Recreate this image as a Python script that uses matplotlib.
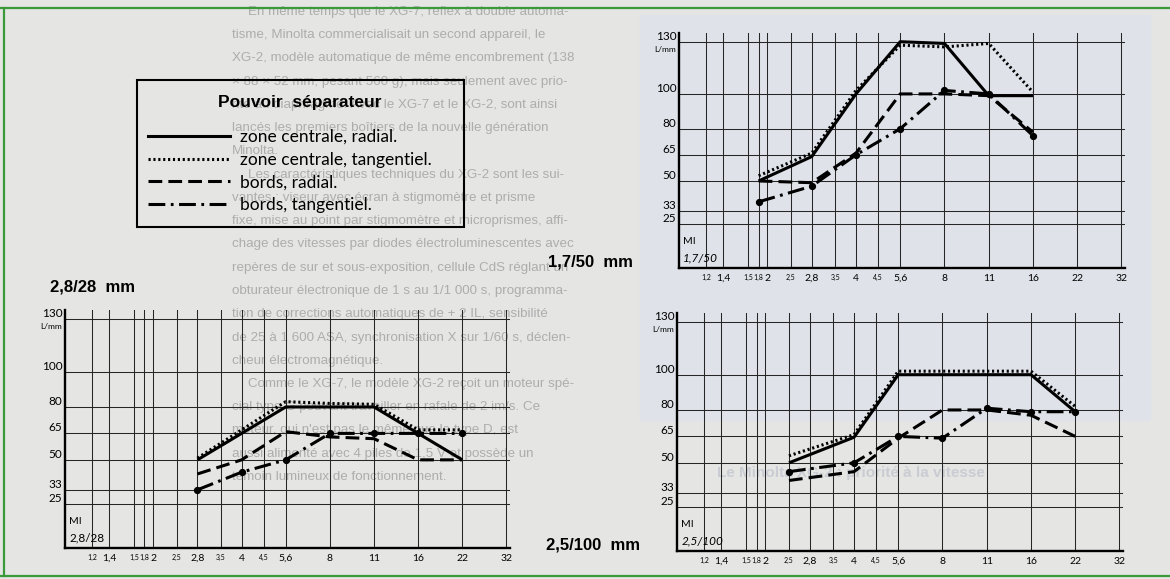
import numpy as np
import matplotlib
matplotlib.use("Agg")
import matplotlib.pyplot as plt
from matplotlib.lines import Line2D
from matplotlib.patches import Rectangle
from matplotlib.font_manager import FontProperties

# ---- data ----
f_ticks = [1.2, 1.4, 1.5, 1.8, 2, 2.5, 2.8, 3.5, 4, 4.5, 5.6, 8, 11, 16, 22, 32]
f_tick_labels = ["1,2", "1,4", "1,5", "1,8", "2", "2,5", "2,8", "3,5", "4",
                 "4,5", "5,6", "8", "11", "16", "22", "32"]
small_labels = ["1,2", "1,5", "1,8", "2,5", "3,5", "4,5"]
y_ticks = [25, 33, 50, 65, 80, 100, 130]

series_names = ["zone centrale, radial.", "zone centrale, tangentiel.",
                "bords, radial.", "bords, tangentiel."]

# 2,8/28 mm
w28_c_rad_x = [2.8, 5.6, 11, 16, 22]
w28_c_rad_y = [50, 80, 80, 65, 50]
w28_c_tan_x = [2.8, 5.6, 8, 11, 16, 22]
w28_c_tan_y = [51, 83, 82, 81.5, 67, 67]
w28_b_rad_x = [2.8, 4, 5.6, 8, 11, 16, 22]
w28_b_rad_y = [42, 50, 66, 63, 62, 50, 50]
w28_b_tan_x = [2.8, 4, 5.6, 8, 11, 16, 22]
w28_b_tan_y = [33, 43, 50, 65, 65, 65, 65]

# 1,7/50 mm
n50_c_rad_x = [1.8, 2.8, 4, 5.6, 8, 11, 16]
n50_c_rad_y = [50, 64, 100, 130, 129, 99, 99]
n50_c_tan_x = [1.8, 2.8, 4, 5.6, 8, 11, 16]
n50_c_tan_y = [53, 66, 102, 128, 127, 129, 101]
n50_b_rad_x = [1.8, 2.8, 4, 5.6, 8, 11, 16]
n50_b_rad_y = [50, 49, 66, 100, 100, 99, 78]
n50_b_tan_x = [1.8, 2.8, 4, 5.6, 8, 11, 16]
n50_b_tan_y = [38, 47, 65, 80, 102, 100, 76]

# 2,5/100 mm
t100_c_rad_x = [2.5, 4, 5.6, 16, 22]
t100_c_rad_y = [50, 64.5, 100, 100, 79]
t100_c_tan_x = [2.5, 4, 5.6, 16, 22]
t100_c_tan_y = [54, 66, 102, 102, 82]
t100_b_rad_x = [2.5, 4, 5.6, 8, 11, 16, 22]
t100_b_rad_y = [40, 45, 64, 80, 80, 77, 65]
t100_b_tan_x = [2.5, 4, 5.6, 8, 11, 16, 22]
t100_b_tan_y = [45, 50, 65, 64, 81, 79, 79]

# the f-number axis is drawn in stops, intermediate values placed by hand
F_TAB = [1, 1.2, 1.4, 1.5, 1.8, 2, 2.5, 2.8, 3.5, 4, 4.5, 5.6, 8, 11, 16, 22, 32, 45.25]
S_TAB = [0, 0.62, 1, 1.56, 1.8, 2, 2.53, 3, 3.53, 4, 4.5, 5, 6, 7, 8, 9, 10, 11]


def fwd(f):
    return np.interp(f, F_TAB, S_TAB)


def inv(s):
    return np.interp(s, S_TAB, F_TAB)


W, H = 1170, 579
fig = plt.figure(figsize=(W / 100, H / 100), dpi=100, facecolor="#e5e5e3")


def fx(x):
    return x / W


def fy(y):
    return 1 - y / H


# faint photo behind the right charts
fig.patches.append(Rectangle((fx(640), fy(420)), fx(1150) - fx(640), fy(15) - fy(420),
                             transform=fig.transFigure, color="#dfe3e9", zorder=-3))

# faint article text showing through
body = [
    "En même temps que le XG-7, reflex à double automa-",
    "tisme, Minolta commercialisait un second appareil, le",
    "XG-2, modèle automatique de même encombrement (138",
    "× 88 × 52 mm, pesant 560 g), mais seulement avec prio-",
    "rité au diaphragme. Avec le XG-7 et le XG-2, sont ainsi",
    "lancés les premiers boîtiers de la nouvelle génération",
    "Minolta.",
    "Les caractéristiques techniques du XG-2 sont les sui-",
    "vantes : viseur avec écran à stigmomètre et prisme",
    "fixe, mise au point par stigmomètre et microprismes, affi-",
    "chage des vitesses par diodes électroluminescentes avec",
    "repères de sur et sous-exposition, cellule CdS réglant un",
    "obturateur électronique de 1 s au 1/1 000 s, programma-",
    "tion de corrections automatiques de + 2 IL, sensibilité",
    "de 25 à 1 600 ASA, synchronisation X sur 1/60 s, déclen-",
    "cheur électromagnétique.",
    "Comme le XG-7, le modèle XG-2 reçoit un moteur spé-",
    "cial type G pouvant travailler en rafale de 2 im/s. Ce",
    "moteur, qui n'est pas le même que le type D, est",
    "aussi alimenté avec 4 piles de 1,5 V et possède un",
    "témoin lumineux de fonctionnement.",
]
indent = {0, 7, 16}
for i, line in enumerate(body):
    fig.text(fx(248 if i in indent else 232), fy(12 + i * 23.25), line, fontsize=9.6,
             family="Liberation Sans", color="#adadad", va="center", zorder=-2)
fig.text(fx(717), fy(473), "Le Minolta XG-2 : priorité à la vitesse", fontsize=11,
         family="Liberation Sans", weight="bold", color="#c9ccd2", va="center", zorder=-2)

# green frame
for xs, ys in [([0, 1], [fy(8), fy(8)]), ([0, 1], [fy(576), fy(576)]),
               ([fx(4), fx(4)], [fy(8), fy(576)])]:
    fig.add_artist(Line2D(xs, ys, transform=fig.transFigure, color="#3a9a3a", lw=1.6))

styles = [
    dict(color="k", lw=2.2, ls="-"),
    dict(color="k", lw=2.2, ls=(0, (0.7, 0.9))),
    dict(color="k", lw=2.2, ls=(0, (4.5, 2.0))),
    dict(color="k", lw=2.2, ls=(0, (5.5, 1.8, 0.9, 1.8))),
]

charts = [
    ((65, 548, 510, 310), "2,8/28", False,
     [(w28_c_rad_x, w28_c_rad_y), (w28_c_tan_x, w28_c_tan_y),
      (w28_b_rad_x, w28_b_rad_y), (w28_b_tan_x, w28_b_tan_y)]),
    ((679, 268, 1125, 33), "1,7/50", True,
     [(n50_c_rad_x, n50_c_rad_y), (n50_c_tan_x, n50_c_tan_y),
      (n50_b_rad_x, n50_b_rad_y), (n50_b_tan_x, n50_b_tan_y)]),
    ((677, 551, 1123, 313), "2,5/100", True,
     [(t100_c_rad_x, t100_c_rad_y), (t100_c_tan_x, t100_c_tan_y),
      (t100_b_rad_x, t100_b_rad_y), (t100_b_tan_x, t100_b_tan_y)]),
]

for (l, b, r, t), model, italic, data in charts:
    ax = fig.add_axes([fx(l), fy(b), (r - l) / W, (b - t) / H])
    ax.set_facecolor("none")
    ax.set_xscale("function", functions=(fwd, inv))
    ax.set_xlim(1, inv(10.08))
    ax.set_ylim(0, 135)
    ax.set_xticks(f_ticks, f_tick_labels)
    ax.set_yticks(y_ticks, [str(v) for v in y_ticks])
    ax.tick_params(length=0)
    ax.tick_params(axis="x", pad=4)
    ax.tick_params(axis="y", pad=2)
    for lab in ax.get_xticklabels():
        lab.set_family("Lato")
        lab.set_fontsize(5 if lab.get_text() in small_labels else 7.5)
    for lab in ax.get_yticklabels():
        lab.set_family("Lato")
        lab.set_fontsize(8.5)
        lab.set_va("bottom")
    ax.grid(True, color="#262626", lw=0.75)
    for side in ["top", "right"]:
        ax.spines[side].set_visible(False)
    for side in ["left", "bottom"]:
        ax.spines[side].set_linewidth(1.7)
    ax.annotate("L/mm", xy=(0, 130), xycoords=("axes fraction", "data"),
                xytext=(-2, -3), textcoords="offset points", ha="right", va="top",
                fontsize=6, family="Lato")
    ax.annotate("MI", xy=(0, 15), xycoords=("axes fraction", "data"),
                xytext=(3, 0), textcoords="offset points", va="center",
                fontsize=7.5, family="Lato")
    ax.annotate(model, xy=(0, 6), xycoords=("axes fraction", "data"),
                xytext=(3, 0), textcoords="offset points", va="center",
                fontsize=8.5, family="Lato", style="italic" if italic else "normal")
    for (xs, ys), st in zip(data, styles):
        ax.plot(xs, ys, solid_capstyle="butt", dash_capstyle="butt", **st)
    bx, by = data[3]
    ax.plot(bx, by, ls="none", marker="o", ms=4.2, color="k")

# chart names
for x, y, name in [(50, 287, "2,8/28  mm"), (633, 262, "1,7/50  mm"), (640, 545, "2,5/100  mm")]:
    fig.text(fx(x), fy(y), name, fontsize=12, weight="bold", family="Liberation Sans",
             va="center", ha="left" if x < 100 else "right")

# key: frame, title, entries
fig.patches.append(Rectangle((fx(137), fy(227)), fx(464) - fx(137), fy(80) - fy(227),
                             transform=fig.transFigure, fill=False, ec="k", lw=1.5))
fig.text(fx(300), fy(103), "Pouvoir  séparateur", fontsize=12.5, weight="bold",
         family="Liberation Sans", ha="center", va="center")
handles = [Line2D([], [], **st) for st in styles]
fig.legend(handles, series_names, loc="center left",
           bbox_to_anchor=(fx(148), fy(171)), bbox_transform=fig.transFigure,
           frameon=False, prop=FontProperties(family="Lato", size=12.5),
           handlelength=4.7, borderpad=0, labelspacing=0.39,
           handletextpad=0.58, borderaxespad=0)

fig.savefig("out.png", dpi=100, facecolor=fig.get_facecolor())
